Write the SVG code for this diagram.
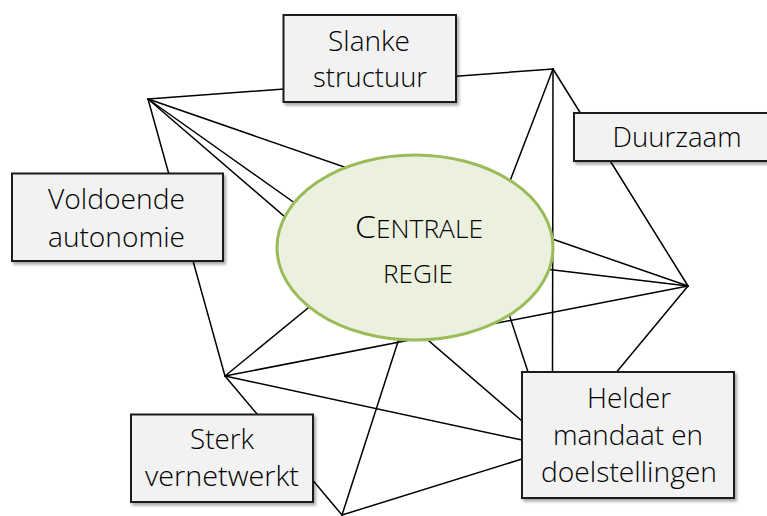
<svg xmlns="http://www.w3.org/2000/svg" width="767" height="516" viewBox="0 0 767 516">
  <defs>
    <filter id="shadow" x="-10%" y="-10%" width="130%" height="130%">
      <feDropShadow dx="2" dy="2.5" stdDeviation="1.5" flood-color="#000" flood-opacity="0.35"/>
    </filter>
  </defs>
  <style>
    .link { stroke: #000; stroke-width: 1.5; fill: none; stroke-linecap: round; }
    .box rect { fill: #f2f2f2; stroke: #1a1a1a; stroke-width: 2; filter: url(#shadow); }
    .lbl { font-family: "Open Sans", "Liberation Sans", sans-serif; font-weight: 350; font-size: 27px; fill: #000; text-anchor: middle; }
    .hub ellipse { fill: #ebf1de; stroke: #9bbb59; stroke-width: 3; }
    .hubtxt { font-family: "Open Sans", "Liberation Sans", sans-serif; font-weight: 350; font-size: 25px; fill: #000; text-anchor: middle; }
  </style>

  <!-- connectors -->
  <g id="connectors">
    <line class="link" x1="148" y1="99" x2="553" y2="69"/>
    <line class="link" x1="148" y1="99" x2="225" y2="376"/>
    <line class="link" x1="148" y1="99" x2="688" y2="286"/>
    <line class="link" x1="148" y1="99" x2="330" y2="228"/>
    <line class="link" x1="148" y1="99" x2="522" y2="421"/>
    <line class="link" x1="553" y1="69" x2="688" y2="286"/>
    <line class="link" x1="553" y1="69" x2="552.5" y2="372"/>
    <line class="link" x1="553" y1="69" x2="495" y2="220"/>
    <line class="link" x1="688" y1="286" x2="520" y2="266"/>
    <line class="link" x1="688" y1="286" x2="225" y2="376"/>
    <line class="link" x1="688" y1="286" x2="610" y2="380"/>
    <line class="link" x1="225" y1="376" x2="330" y2="290"/>
    <line class="link" x1="225" y1="376" x2="342" y2="515"/>
    <line class="link" x1="225" y1="376" x2="522" y2="440"/>
    <line class="link" x1="342" y1="515" x2="405" y2="320"/>
    <line class="link" x1="342" y1="515" x2="522" y2="459"/>
    <line class="link" x1="504" y1="299" x2="530" y2="378"/>
  </g>

  <g id="centrale-regie" class="hub">
    <ellipse cx="415" cy="247.5" rx="138" ry="92.5"/>
    <text class="hubtxt" x="419" y="238" textLength="128" lengthAdjust="spacingAndGlyphs"><tspan font-size="32">C</tspan>ENTRALE</text>
    <text class="hubtxt" x="418" y="283" textLength="70" lengthAdjust="spacingAndGlyphs">REGIE</text>
  </g>

  <g id="slanke-structuur" class="box">
    <rect x="283.5" y="15" width="172.5" height="87"/>
    <text class="lbl" x="369" y="51" textLength="82" lengthAdjust="spacingAndGlyphs">Slanke</text>
    <text class="lbl" x="370" y="87" textLength="114" lengthAdjust="spacingAndGlyphs">structuur</text>
  </g>

  <g id="duurzaam" class="box">
    <rect x="574" y="113" width="200" height="48"/>
    <text class="lbl" x="677" y="147" textLength="129" lengthAdjust="spacingAndGlyphs">Duurzaam</text>
  </g>

  <g id="voldoende-autonomie" class="box">
    <rect x="12" y="173.5" width="211" height="87.5"/>
    <text class="lbl" x="116.5" y="209" textLength="137" lengthAdjust="spacingAndGlyphs">Voldoende</text>
    <text class="lbl" x="116.5" y="247" textLength="137" lengthAdjust="spacingAndGlyphs">autonomie</text>
  </g>

  <g id="sterk-vernetwerkt" class="box">
    <rect x="131" y="414.5" width="182" height="87.5"/>
    <text class="lbl" x="222" y="449" textLength="64" lengthAdjust="spacingAndGlyphs">Sterk</text>
    <text class="lbl" x="222" y="486" textLength="154" lengthAdjust="spacingAndGlyphs">vernetwerkt</text>
  </g>

  <g id="helder-mandaat" class="box">
    <rect x="522" y="372" width="212" height="126"/>
    <text class="lbl" x="629" y="408" textLength="84" lengthAdjust="spacingAndGlyphs">Helder</text>
    <text class="lbl" x="628" y="445" textLength="150" lengthAdjust="spacingAndGlyphs">mandaat en</text>
    <text class="lbl" x="629" y="482" textLength="176" lengthAdjust="spacingAndGlyphs">doelstellingen</text>
  </g>
</svg>
